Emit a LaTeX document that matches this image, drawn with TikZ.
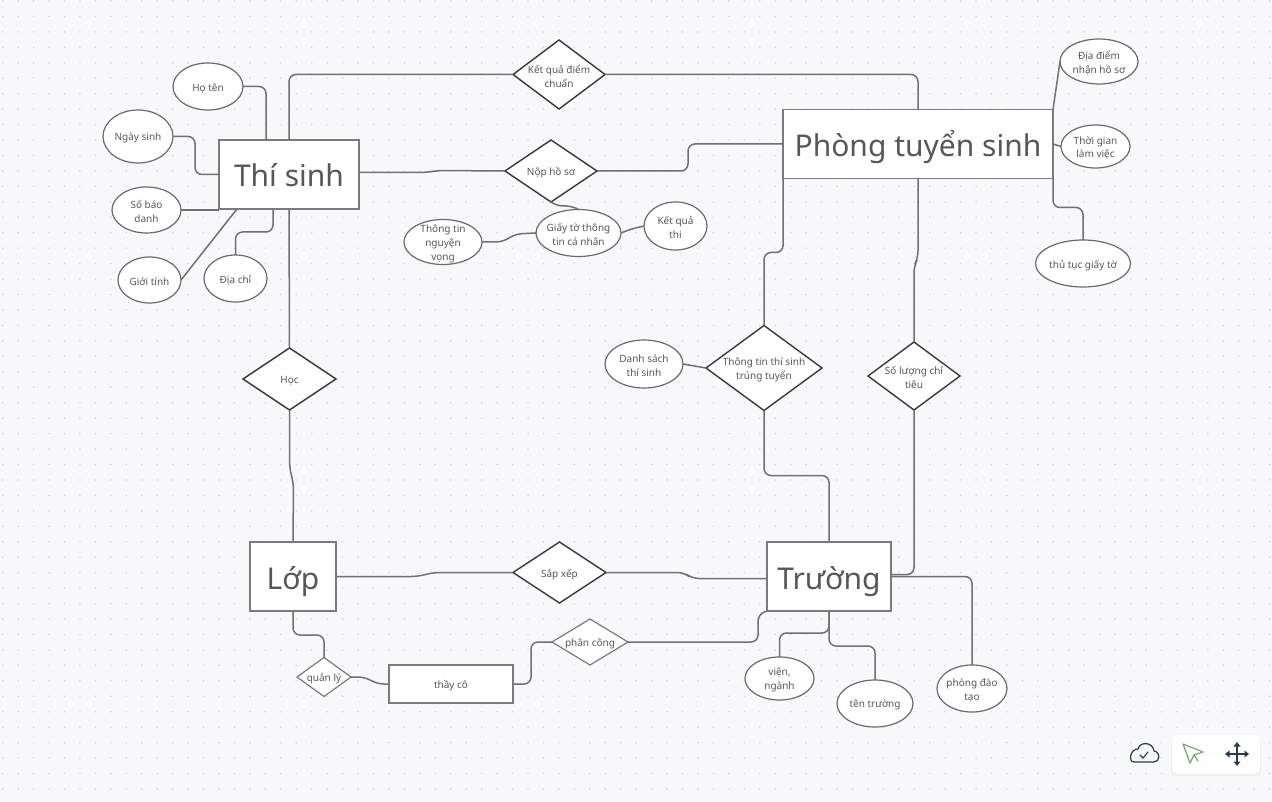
\documentclass[tikz,border=0pt]{standalone}
\usepackage{fontspec}
\setmainfont{Noto Sans}
\usetikzlibrary{shapes.geometric,calc}

\definecolor{bgpaper}{HTML}{F8F8FA}
\definecolor{griddot}{HTML}{D9D9DF}
\definecolor{linkgray}{HTML}{707070}
\definecolor{boxgray}{HTML}{7A7A7A}
\definecolor{ovalgray}{HTML}{6A6A6A}
\definecolor{reldark}{HTML}{383838}
\definecolor{textgray}{HTML}{575757}
\definecolor{iconnavy}{HTML}{263B4E}
\definecolor{icongreen}{HTML}{6BAA68}

\tikzset{
  entity/.style 2 args={rectangle, draw=boxgray, fill=white, line width=1.3pt, minimum width=#1, minimum height=#2, inner sep=0pt, outer sep=0pt, text=textgray, font=\fontsize{30}{36}\selectfont, text height=25pt, text depth=0pt},
  attrib/.style 2 args={ellipse, draw=ovalgray, fill=white, line width=1.2pt, minimum width=#1, minimum height=#2, inner sep=0pt, outer sep=0pt},
  relation/.style 2 args={diamond, draw=reldark, fill=white, line width=1.4pt, minimum width=#1, minimum height=#2, inner sep=0pt, outer sep=0pt},
  lbl/.style={text=textgray, font=\fontsize{10}{13.7}\selectfont, align=center, inner sep=0pt, yshift=-1.7pt},
  link/.style={draw=linkgray, line width=1.5pt, rounded corners=7pt},
}

\begin{document}
\begin{tikzpicture}[x=1pt,y=1pt,yscale=-1,xscale=1]
\useasboundingbox (0,0) rectangle (1272,802);
\fill[bgpaper] (0,0) rectangle (1272,802);
\foreach \i in {0,...,82} {
  \foreach \j in {0,...,51} {
    \fill[griddot] (2.7+15.45*\i,1+15.45*\j) circle (0.9);
  }
}

%Shape: Rectangle
\node[entity={140}{69}] (thisinh) at (289,174.5) {Thí sinh};
\node[entity={270}{69}] (pts) at (918,144) {Phòng tuyển sinh};
\node[entity={86}{69}] (lop) at (293,576.5) {Lớp};
\node[entity={124}{69}] (truong) at (829,576.5) {Trường};
\node[entity={124}{38}, font=\fontsize{10}{12}\selectfont, text height=8.6pt] (thayco) at (451,684) {thầy cô};

%Shape: Diamond
\node[relation={92}{69}, label={[lbl]center:{Kết quả điểm\\chuẩn}}] (ketqua) at (559,74.5) {};
\node[relation={92}{62}, label={[lbl]center:{Nộp hồ sơ}}] (nophoso) at (551,171) {};
\node[relation={93}{62}, label={[lbl]center:{Học}}] (hoc) at (289.5,379) {};
\node[relation={116}{85}, label={[lbl]center:{Thông tin thí sinh\\trúng tuyển}}] (trungtuyen) at (764,368) {};
\node[relation={92}{68}, label={[lbl]center:{Số lượng chỉ\\tiêu}}] (soluong) at (914,376) {};
\node[relation={93}{61}, label={[lbl]center:{Sắp xếp}}] (sapxep) at (559.5,572.5) {};
\node[relation={54}{39}, draw=boxgray, line width=1.2pt, label={[lbl]center:{quản lý}}] (quanly) at (324,677) {};
\node[relation={76}{46}, draw=boxgray, line width=1.2pt, label={[lbl]center:{phân công}}] (phancong) at (590,642) {};

%Shape: Ellipse
\node[attrib={70}{47}, label={[lbl]center:{Họ tên}}] (hoten) at (208,86.5) {};
\node[attrib={70}{53}, label={[lbl]center:{Ngày sinh}}] (ngaysinh) at (138,136.5) {};
\node[attrib={69}{46}, label={[lbl]center:{Số báo\\danh}}] (sobaodanh) at (146.5,210) {};
\node[attrib={63}{46}, label={[lbl]center:{Giới tính}}] (gioitinh) at (149.5,280) {};
\node[attrib={63}{47}, label={[lbl]center:{Địa chỉ}}] (diachi) at (235.5,278.5) {};
\node[attrib={78}{45}, label={[lbl]center:{Thông tin\\nguyện\\vọng}}] (nguyenvong) at (443,242) {};
\node[attrib={85}{47}, label={[lbl]center:{Giấy tờ thông\\tin cá nhân}}] (giayto) at (578.5,233) {};
\node[attrib={63}{48}, label={[lbl]center:{Kết quả\\thi}}] (ketquathi) at (675.5,226) {};
\node[attrib={78}{45}, label={[lbl]center:{Địa điểm\\nhận hồ sơ}}] (diadiem) at (1099,61.5) {};
\node[attrib={69}{43}, label={[lbl]center:{Thời gian\\làm việc}}] (thoigian) at (1095.5,146.5) {};
\node[attrib={95}{47}, label={[lbl]center:{thủ tục giấy tờ}}] (thutuc) at (1083,263.5) {};
\node[attrib={78}{48}, label={[lbl]center:{Danh sách\\thí sinh}}] (danhsach) at (644,364) {};
\node[attrib={69}{43}, label={[lbl]center:{viện,\\ngành}}] (vien) at (779.5,678.5) {};
\node[attrib={76}{47}, label={[lbl]center:{tên trường}}] (tentruong) at (875,703.5) {};
\node[attrib={70}{47}, label={[lbl]center:{phòng đào\\tạo}}] (phongdaotao) at (972,688.5) {};

%Straight Lines
\draw[link] (hoten.east) -| ($(thisinh.north west)+(47,0)$);
\draw[link] (ngaysinh.east) -- ++(22,0) |- (thisinh.west);
\draw[link] (sobaodanh.east) -- (sobaodanh.east -| thisinh.west);
\draw[link] (gioitinh.east) -- ($(thisinh.south west)+(18,0)$);
\draw[link] (diachi.north) -- ++(0,-23) -| ($(thisinh.south west)+(54,0)$);
\draw[link] (thisinh.north) |- (ketqua.west);
\draw[link] (ketqua.east) -| (pts.north);
\draw[link] ($(thisinh.east)+(0,-2)$) -- ++(68,0) -- ++(10,-2) -- (nophoso.west);
\draw[link] (nophoso.east) -- ++(91,0) |- (pts.west);
\draw[link] (nophoso.south) -- ++(5,4) -- ++(17,0) -- (giayto.north);
\draw[link] (nguyenvong.east) -- ++(21,0) -- ++(12,-8) -- (giayto.west);
\draw[link] (giayto.east) -- ++(10,-4) -- (ketquathi.west);
\draw[link] (thisinh.south) -- (hoc.north);
\draw[link] (hoc.south) -- ++(0,58) -- ++(4,15) -- (lop.north);
\draw[link] (lop.east) -- ++(82,0) -- ++(15,-4) -- (sapxep.west);
\draw[link] (sapxep.east) -- ++(78,0) -- ++(8,6) -- ($(truong.west)+(0,2)$);
\draw[link] (lop.south) -- ++(0,24) -| (quanly.north);
\draw[link] (quanly.east) -- ++(14,0) -- ++(12,7) -- (thayco.west);
\draw[link] (thayco.east) -- ++(18,0) |- (phancong.west);
\draw[link] (phancong.east) -- ++(130,0) -- ++(0,-28) -- (truong.south west);
\draw[link] (truong.south) -- ++(0,22) -| (vien.north);
\draw[link] (truong.south) -- ++(0,35) -| (tentruong.north);
\draw[link] (truong.east) -| (phongdaotao.north);
\draw[link] ($(truong.east)+(0,-2)$) -| (soluong.south);
\draw[link] (soluong.north) -- ++(0,-76) -- ++(4,-8) -- (pts.south);
\draw[link] (trungtuyen.north) -- ++(0,-73) -| (pts.south west);
\draw[link] (trungtuyen.south) -- ++(0,65) -| (truong.north);
\draw[link] (danhsach.east) -- (trungtuyen.west);
\draw[link] (pts.north east) -- (diadiem.west);
\draw[link] (pts.east) -- (thoigian.west);
\draw[link] (pts.south east) -- ++(0,29) -| (thutuc.north);

% Toolbar
\fill[black!7, rounded corners=5pt] (1171,736) rectangle (1261,776);
\fill[white, rounded corners=5pt] (1172,735) rectangle (1260,774);
\draw[iconnavy, line width=1.2pt, line join=round] (1134,762) -- (1154,762) .. controls (1160,762) and (1161,752) .. (1154,751) .. controls (1153,742) and (1140,741) .. (1138,749) .. controls (1130,749) and (1128,762) .. (1134,762);
\draw[iconnavy, line width=1.1pt, line cap=round] (1140,755) -- (1143,758) -- (1148,752);
\draw[icongreen, line width=1.2pt, line join=round] (1183,744) -- (1203,752) -- (1194,755) -- (1190,763) -- cycle;
\draw[icongreen, line width=1.2pt, line cap=round] (1194,755) -- (1198,761);
\draw[iconnavy, line width=1.4pt] (1226,754) -- (1248,754) (1237,743) -- (1237,765);
\foreach \a in {0,90,180,270} {
  \fill[iconnavy, shift={(1237,754)}, rotate=\a] (12,0) -- (7.5,-3.5) -- (7.5,3.5) -- cycle;
}

\end{tikzpicture}
\end{document}
